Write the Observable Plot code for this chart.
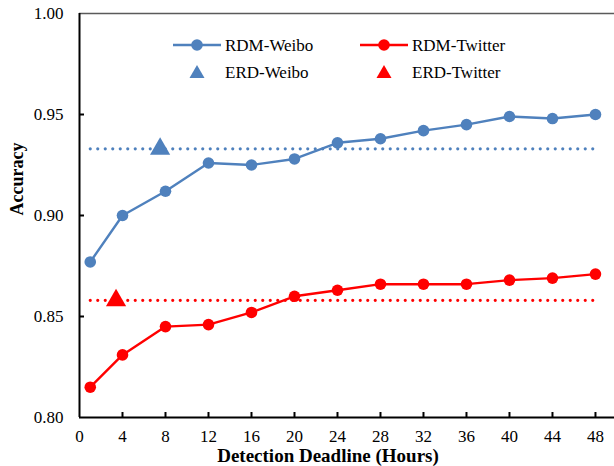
<!DOCTYPE html>
<html>
<head>
<meta charset="utf-8">
<script src="https://cdn.jsdelivr.net/npm/d3@7"></script>
<script src="https://cdn.jsdelivr.net/npm/@observablehq/plot@0.6"></script>
<style>
  html, body { margin: 0; padding: 0; background: #fff; }
  #wrap { position: relative; width: 614px; height: 466px; font-family: "Liberation Serif", "Times New Roman", serif; }
  #legend { position: absolute; left: 0; top: 0; pointer-events: none; }
</style>
</head>
<body>
<div id="wrap"></div>
<script>
// ---- data ----
const hours = [1, 4, 8, 12, 16, 20, 24, 28, 32, 36, 40, 44, 48];
const rdmWeibo = [0.877, 0.900, 0.912, 0.926, 0.925, 0.928, 0.936, 0.938, 0.942, 0.945, 0.949, 0.948, 0.950];
const rdmTwitter = [0.815, 0.831, 0.845, 0.846, 0.852, 0.860, 0.863, 0.866, 0.866, 0.866, 0.868, 0.869, 0.871];
const erdWeiboValue = 0.933;
const erdWeiboHour = 7.5;
const erdTwitterValue = 0.858;
const erdTwitterHour = 3.4;
const xTicks = [0, 4, 8, 12, 16, 20, 24, 28, 32, 36, 40, 44, 48];
const yTicks = [0.80, 0.85, 0.90, 0.95, 1.00];
const seriesNames = ["RDM-Weibo", "RDM-Twitter", "ERD-Weibo", "ERD-Twitter"];
const blue = "#4F81BD", red = "#FF0000";

const weibo = hours.map((h, i) => ({h, v: rdmWeibo[i]}));
const twitter = hours.map((h, i) => ({h, v: rdmTwitter[i]}));
const erdLines = [
  {h: hours[0], v: erdWeiboValue, s: "w"}, {h: hours[hours.length - 1], v: erdWeiboValue, s: "w"},
  {h: hours[0], v: erdTwitterValue, s: "t"}, {h: hours[hours.length - 1], v: erdTwitterValue, s: "t"}
];
const erdPoints = [
  {h: erdWeiboHour, v: erdWeiboValue, c: blue},
  {h: erdTwitterHour, v: erdTwitterValue, c: red}
];

const W = 614, H = 466, mL = 79, mR = 0, mT = 13, mB = 49;
const plotW = W - mL - mR, plotH = H - mT - mB;

const chart = Plot.plot({
  width: W, height: H,
  marginLeft: mL, marginRight: mR, marginTop: mT, marginBottom: mB,
  style: {fontFamily: "'Liberation Serif', 'Times New Roman', serif", fontSize: "17px", color: "#000", background: "#fff"},
  x: {domain: [0, 49.77], ticks: xTicks},
  y: {domain: [0.80, 1.00], ticks: yTicks},
  marks: [
    Plot.axisX(xTicks, {tickSize: 0, tickPadding: 12, label: null, tickFormat: d => String(d), fontSize: 17}),
    Plot.axisY(yTicks, {tickSize: 0, tickPadding: 16, label: null, tickFormat: d3.format(".2f"), fontSize: 17}),
    Plot.text(["Accuracy"], {frameAnchor: "left", rotate: -90, dx: -62, fontWeight: "bold", fontSize: 18}),
    Plot.text(["Detection Deadline (Hours)"], {frameAnchor: "bottom", lineAnchor: "middle", dy: 38, dx: -19, fontWeight: "bold", fontSize: 19}),
    // frame lines
    Plot.ruleY([1.00], {stroke: "#5a5a5a", strokeWidth: 1.6}),
    Plot.ruleY([0.80], {stroke: "#000", strokeWidth: 2}),
    Plot.ruleX([0], {stroke: "#000", strokeWidth: 2}),
    // inward ticks
    Plot.tickY(yTicks.slice(1, -1), {y: d => d, stroke: "#000", strokeWidth: 2, insetRight: plotW - 5}),
    Plot.tickX(xTicks.slice(1), {x: d => d, stroke: "#000", strokeWidth: 2, insetTop: plotH - 5}),
    // ERD dotted baselines
    Plot.line(erdLines, {x: "h", y: "v", z: "s", stroke: d => d.s === "w" ? blue : red, strokeWidth: 3.2, strokeDasharray: "0 7.5", strokeLinecap: "round"}),
    // RDM lines
    Plot.line(weibo, {x: "h", y: "v", stroke: blue, strokeWidth: 2.4}),
    Plot.dot(weibo, {x: "h", y: "v", r: 5.8, fill: blue}),
    Plot.line(twitter, {x: "h", y: "v", stroke: red, strokeWidth: 2.4}),
    Plot.dot(twitter, {x: "h", y: "v", r: 5.8, fill: red}),
    // ERD points
    Plot.dot(erdPoints, {x: "h", y: "v", symbol: "triangle", r: 7.5, fill: d => d.c})
  ]
});

const wrap = document.getElementById("wrap");
wrap.appendChild(chart);

// legend overlay
const tri = (cx, cy, c) => `<path d="M${cx},${cy - 7} L${cx + 7.5},${cy + 6} L${cx - 7.5},${cy + 6} Z" fill="${c}"/>`;
const legendSvg = `
<svg id="legend" width="${W}" height="${H}" xmlns="http://www.w3.org/2000/svg" font-family="'Liberation Serif', 'Times New Roman', serif" font-size="17">
  <line x1="173" y1="45" x2="221" y2="45" stroke="${blue}" stroke-width="2.4"/>
  <circle cx="197" cy="45" r="5.8" fill="${blue}"/>
  <text x="225" y="45" dy="0.35em">${seriesNames[0]}</text>
  <line x1="360" y1="45" x2="408" y2="45" stroke="${red}" stroke-width="2.4"/>
  <circle cx="384" cy="45" r="5.8" fill="${red}"/>
  <text x="412" y="45" dy="0.35em">${seriesNames[1]}</text>
  ${tri(197, 72, blue)}
  <text x="225" y="72" dy="0.35em">${seriesNames[2]}</text>
  ${tri(384, 72, red)}
  <text x="412" y="72" dy="0.35em">${seriesNames[3]}</text>
</svg>`;
wrap.insertAdjacentHTML("beforeend", legendSvg);
</script>
</body>
</html>
